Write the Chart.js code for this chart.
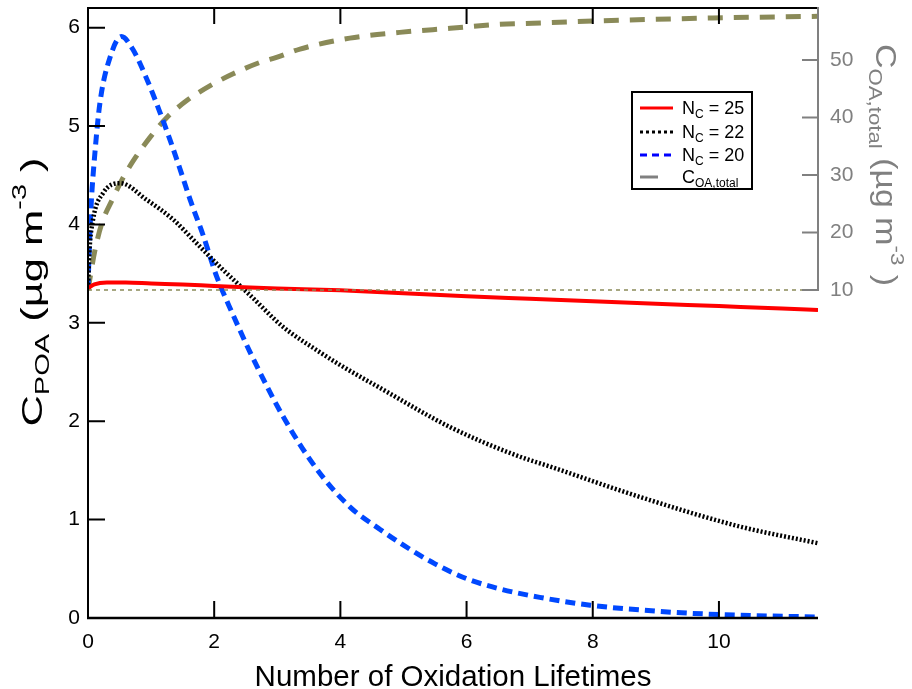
<!DOCTYPE html>
<html>
<head>
<meta charset="utf-8">
<script src="https://cdn.jsdelivr.net/npm/chart.js@4.4.0/dist/chart.umd.min.js"></script>
<style>
  html, body { margin: 0; padding: 0; background: #fff; }
</style>
</head>
<body>
<canvas id="oaChart" width="912" height="689"></canvas>
<script>
// values (x = number of oxidation lifetimes)
const xNc25 = [0, 0.1, 0.3, 0.6, 1, 1.5, 2, 2.57, 3, 4, 5, 6, 7, 8, 9, 10, 11, 11.57];
const cNc25 = [3.35, 3.39, 3.41, 3.41, 3.40, 3.39, 3.375, 3.36, 3.35, 3.33, 3.30, 3.27, 3.245, 3.22, 3.195, 3.17, 3.145, 3.13];

const xNc22 = [0, 0.02, 0.08, 0.24, 0.51, 0.93, 1.35, 1.72, 2.09, 2.57, 3.09, 3.63, 4, 4.68, 5.74, 6.8, 7.32, 8.75, 10.33, 11.57];
const cNc22 = [3.35, 3.7, 4.05, 4.32, 4.42, 4.25, 4.05, 3.81, 3.57, 3.28, 2.96, 2.72, 2.57, 2.32, 1.94, 1.65, 1.54, 1.23, 0.93, 0.76];

const xNc20 = [0, 0.02, 0.05, 0.11, 0.19, 0.35, 0.53, 0.71, 0.95, 1.14, 1.30, 1.46, 1.62, 1.83, 2.04, 2.3, 2.57, 3.09, 3.63, 4.15, 4.63, 5, 5.5, 6, 6.5, 7.16, 7.96, 9, 9.81, 10.5, 11.57];
const cNc20 = [3.35, 3.75, 4.2, 4.73, 5.24, 5.7, 5.91, 5.78, 5.45, 5.14, 4.86, 4.56, 4.25, 3.88, 3.47, 3.08, 2.70, 2.05, 1.51, 1.13, 0.90, 0.74, 0.55, 0.40, 0.30, 0.21, 0.13, 0.07, 0.04, 0.025, 0.01];

// total OA, right axis
const xTotal = [0, 0.11, 0.22, 0.38, 0.56, 0.75, 0.98, 1.25, 1.56, 1.93, 2.3, 2.73, 3.0, 3.36, 4.15, 4.94, 5.74, 6.53, 7.05, 8.11, 9.9, 11.57];
const cTotal = [10, 16.9, 21.6, 25.6, 29.6, 33.0, 36.5, 40.0, 42.9, 45.5, 47.6, 49.6, 50.5, 51.9, 53.8, 54.8, 55.5, 56.2, 56.4, 56.8, 57.3, 57.6];

// initial total OA level (thin dashed line)
const xBase = [0, 11.57];
const cBase = [10, 10];

const xTicks = [0, 2, 4, 6, 8, 10];
const leftTicks = [0, 1, 2, 3, 4, 5, 6];
const rightTicks = [10, 20, 30, 40, 50];

const FONT = '"Liberation Sans", Arial, sans-serif';
const OLIVE = '#8a8a58';
const GRAY = '#808080';
const BLUE = '#0048ff';

function pts(xs, ys) {
    return xs.map((x, i) => ({ x: x, y: ys[i] }));
}

// draws text pieces in a row, sub/superscripts via dy
function richWidth(ctx, parts) {
    let w = 0;
    parts.forEach(p => { ctx.font = p.s + 'px ' + FONT; w += ctx.measureText(p.t).width; });
    return w;
}
function drawRich(ctx, parts, x, y) {
    let cx = x;
    parts.forEach(p => {
        ctx.font = p.s + 'px ' + FONT;
        ctx.fillText(p.t, cx, y + (p.dy || 0));
        cx += ctx.measureText(p.t).width;
    });
}

const legendItems = [
    { sym: 'N', sub: 'C', rest: ' = 25', color: 'red', dash: [], len: 33 },
    { sym: 'N', sub: 'C', rest: ' = 22', color: 'black', dash: [3, 3], len: 33 },
    { sym: 'N', sub: 'C', rest: ' = 20', color: '#0000ff', dash: [7, 5], len: 33 },
    { sym: 'C', sub: 'OA,total', rest: '', color: GRAY, dash: [], len: 18 }
];

function noPad(s) {
    s.paddingTop = 0; s.paddingBottom = 0; s.paddingLeft = 0; s.paddingRight = 0;
}

const framePlugin = {
    id: 'frame',
    afterDraw(chart) {
        const ctx = chart.ctx;
        const a = chart.chartArea;
        const sx = chart.scales.x, sy = chart.scales.y, sy2 = chart.scales.y2;
        ctx.save();
        ctx.setLineDash([]);

        // axis lines
        ctx.strokeStyle = 'black';
        ctx.lineWidth = 2;
        ctx.beginPath();
        ctx.moveTo(a.left, a.top); ctx.lineTo(a.left, a.bottom + 1);
        ctx.moveTo(a.left - 1, a.top); ctx.lineTo(a.right, a.top);
        ctx.stroke();
        ctx.lineWidth = 2.5;
        ctx.beginPath();
        ctx.moveTo(a.left - 1, a.bottom); ctx.lineTo(a.right, a.bottom);
        ctx.stroke();

        // inward ticks
        ctx.lineWidth = 2;
        ctx.beginPath();
        xTicks.forEach(v => {
            if (v === 0) return;
            const px = sx.getPixelForValue(v);
            ctx.moveTo(px, a.bottom); ctx.lineTo(px, a.bottom - 17);
            ctx.moveTo(px, a.top); ctx.lineTo(px, a.top + 16);
        });
        leftTicks.forEach(v => {
            const py = sy.getPixelForValue(v);
            ctx.moveTo(a.left, py); ctx.lineTo(a.left + 17, py);
        });
        ctx.stroke();

        // right axis, only from 10 upwards
        ctx.strokeStyle = GRAY;
        ctx.beginPath();
        ctx.moveTo(a.right, sy2.getPixelForValue(10) + 1); ctx.lineTo(a.right, a.top - 1);
        rightTicks.forEach(v => {
            const py = sy2.getPixelForValue(v);
            ctx.moveTo(a.right, py); ctx.lineTo(a.right - 16, py);
        });
        ctx.stroke();

        // y titles (stretched along the reading direction like the original)
        ctx.textBaseline = 'alphabetic';
        ctx.textAlign = 'left';
        ctx.fillStyle = 'black';
        const leftTitle = [
            { t: 'C', s: 30 }, { t: 'POA', s: 20, dy: 7 },
            { t: ' (µg m', s: 30 }, { t: '-3', s: 20, dy: -16 }, { t: ' )', s: 30 }
        ];
        let w = richWidth(ctx, leftTitle);
        ctx.save();
        ctx.translate(42, 292);
        ctx.rotate(-Math.PI / 2);
        ctx.scale(1.45, 1);
        drawRich(ctx, leftTitle, -w / 2, 0);
        ctx.restore();

        ctx.fillStyle = GRAY;
        const rightTitle = [
            { t: 'C', s: 29 }, { t: 'OA,total', s: 19, dy: 7 },
            { t: ' (µg m', s: 29 }, { t: '-3', s: 19, dy: -15 }, { t: ' )', s: 29 }
        ];
        w = richWidth(ctx, rightTitle);
        ctx.save();
        ctx.translate(876, 165);
        ctx.rotate(Math.PI / 2);
        ctx.scale(1.17, 1);
        drawRich(ctx, rightTitle, -w / 2, 0);
        ctx.restore();

        // legend box
        const bx = 632, by = 92, bw = 120, bh = 97;
        ctx.fillStyle = 'white';
        ctx.fillRect(bx, by, bw, bh);
        ctx.strokeStyle = 'black';
        ctx.lineWidth = 2;
        ctx.strokeRect(bx, by, bw, bh);
        const rowY = [108, 132, 155, 177];
        legendItems.forEach((it, i) => {
            const y = rowY[i];
            ctx.strokeStyle = it.color;
            ctx.lineWidth = 3;
            ctx.setLineDash(it.dash);
            ctx.beginPath();
            ctx.moveTo(640, y); ctx.lineTo(640 + it.len, y);
            ctx.stroke();
            ctx.setLineDash([]);
            ctx.fillStyle = 'black';
            drawRich(ctx, [
                { t: it.sym, s: 18 }, { t: it.sub, s: 12, dy: 4 }, { t: it.rest, s: 18 }
            ], 682, y + 6);
        });
        ctx.restore();
    }
};

new Chart(document.getElementById('oaChart'), {
    type: 'line',
    data: {
        datasets: [
            {
                label: 'C_OA,total initial', data: pts(xBase, cBase), yAxisID: 'y2',
                borderColor: OLIVE, borderWidth: 1.5, borderDash: [4, 4]
            },
            {
                label: 'N_C = 25', data: pts(xNc25, cNc25), yAxisID: 'y',
                borderColor: 'red', borderWidth: 4
            },
            {
                label: 'N_C = 22', data: pts(xNc22, cNc22), yAxisID: 'y',
                borderColor: 'black', borderWidth: 4.5, borderDash: [2, 2]
            },
            {
                label: 'N_C = 20', data: pts(xNc20, cNc20), yAxisID: 'y',
                borderColor: BLUE, borderWidth: 5, borderDash: [10, 6]
            },
            {
                label: 'C_OA,total', data: pts(xTotal, cTotal), yAxisID: 'y2',
                borderColor: OLIVE, borderWidth: 5, borderDash: [15, 11]
            }
        ]
    },
    options: {
        responsive: false,
        animation: false,
        layout: { padding: { top: 8, left: 0, right: 0, bottom: 0 } },
        elements: {
            point: { radius: 0 },
            line: { cubicInterpolationMode: 'monotone', fill: false }
        },
        plugins: {
            legend: { display: false },
            tooltip: { enabled: false }
        },
        scales: {
            x: {
                type: 'linear',
                position: 'bottom',
                min: 0,
                max: 11.57,
                afterBuildTicks: s => { s.ticks = xTicks.map(v => ({ value: v })); },
                afterFit: s => { s.height = 71; noPad(s); },
                grid: { display: false, drawTicks: false },
                border: { display: false },
                ticks: { color: 'black', font: { family: FONT, size: 21 }, padding: 12, maxRotation: 0 },
                title: {
                    display: true,
                    text: 'Number of Oxidation Lifetimes',
                    color: 'black',
                    font: { family: FONT, size: 29.5 },
                    padding: { top: 0, bottom: -7 }
                }
            },
            y: {
                type: 'linear',
                position: 'left',
                min: 0,
                max: 6.2,
                afterBuildTicks: s => { s.ticks = leftTicks.map(v => ({ value: v })); },
                afterFit: s => { s.width = 88; noPad(s); },
                grid: { display: false, drawTicks: false },
                border: { display: false },
                ticks: { color: 'black', font: { family: FONT, size: 21 }, padding: 8 }
            },
            y2: {
                type: 'linear',
                position: 'right',
                min: -47.04,
                max: 59.04,
                afterBuildTicks: s => { s.ticks = rightTicks.map(v => ({ value: v })); },
                afterFit: s => { s.width = 94; noPad(s); },
                grid: { display: false, drawTicks: false },
                border: { display: false },
                ticks: { color: GRAY, font: { family: FONT, size: 21 }, padding: 12 }
            }
        }
    },
    plugins: [framePlugin]
});
</script>
</body>
</html>
